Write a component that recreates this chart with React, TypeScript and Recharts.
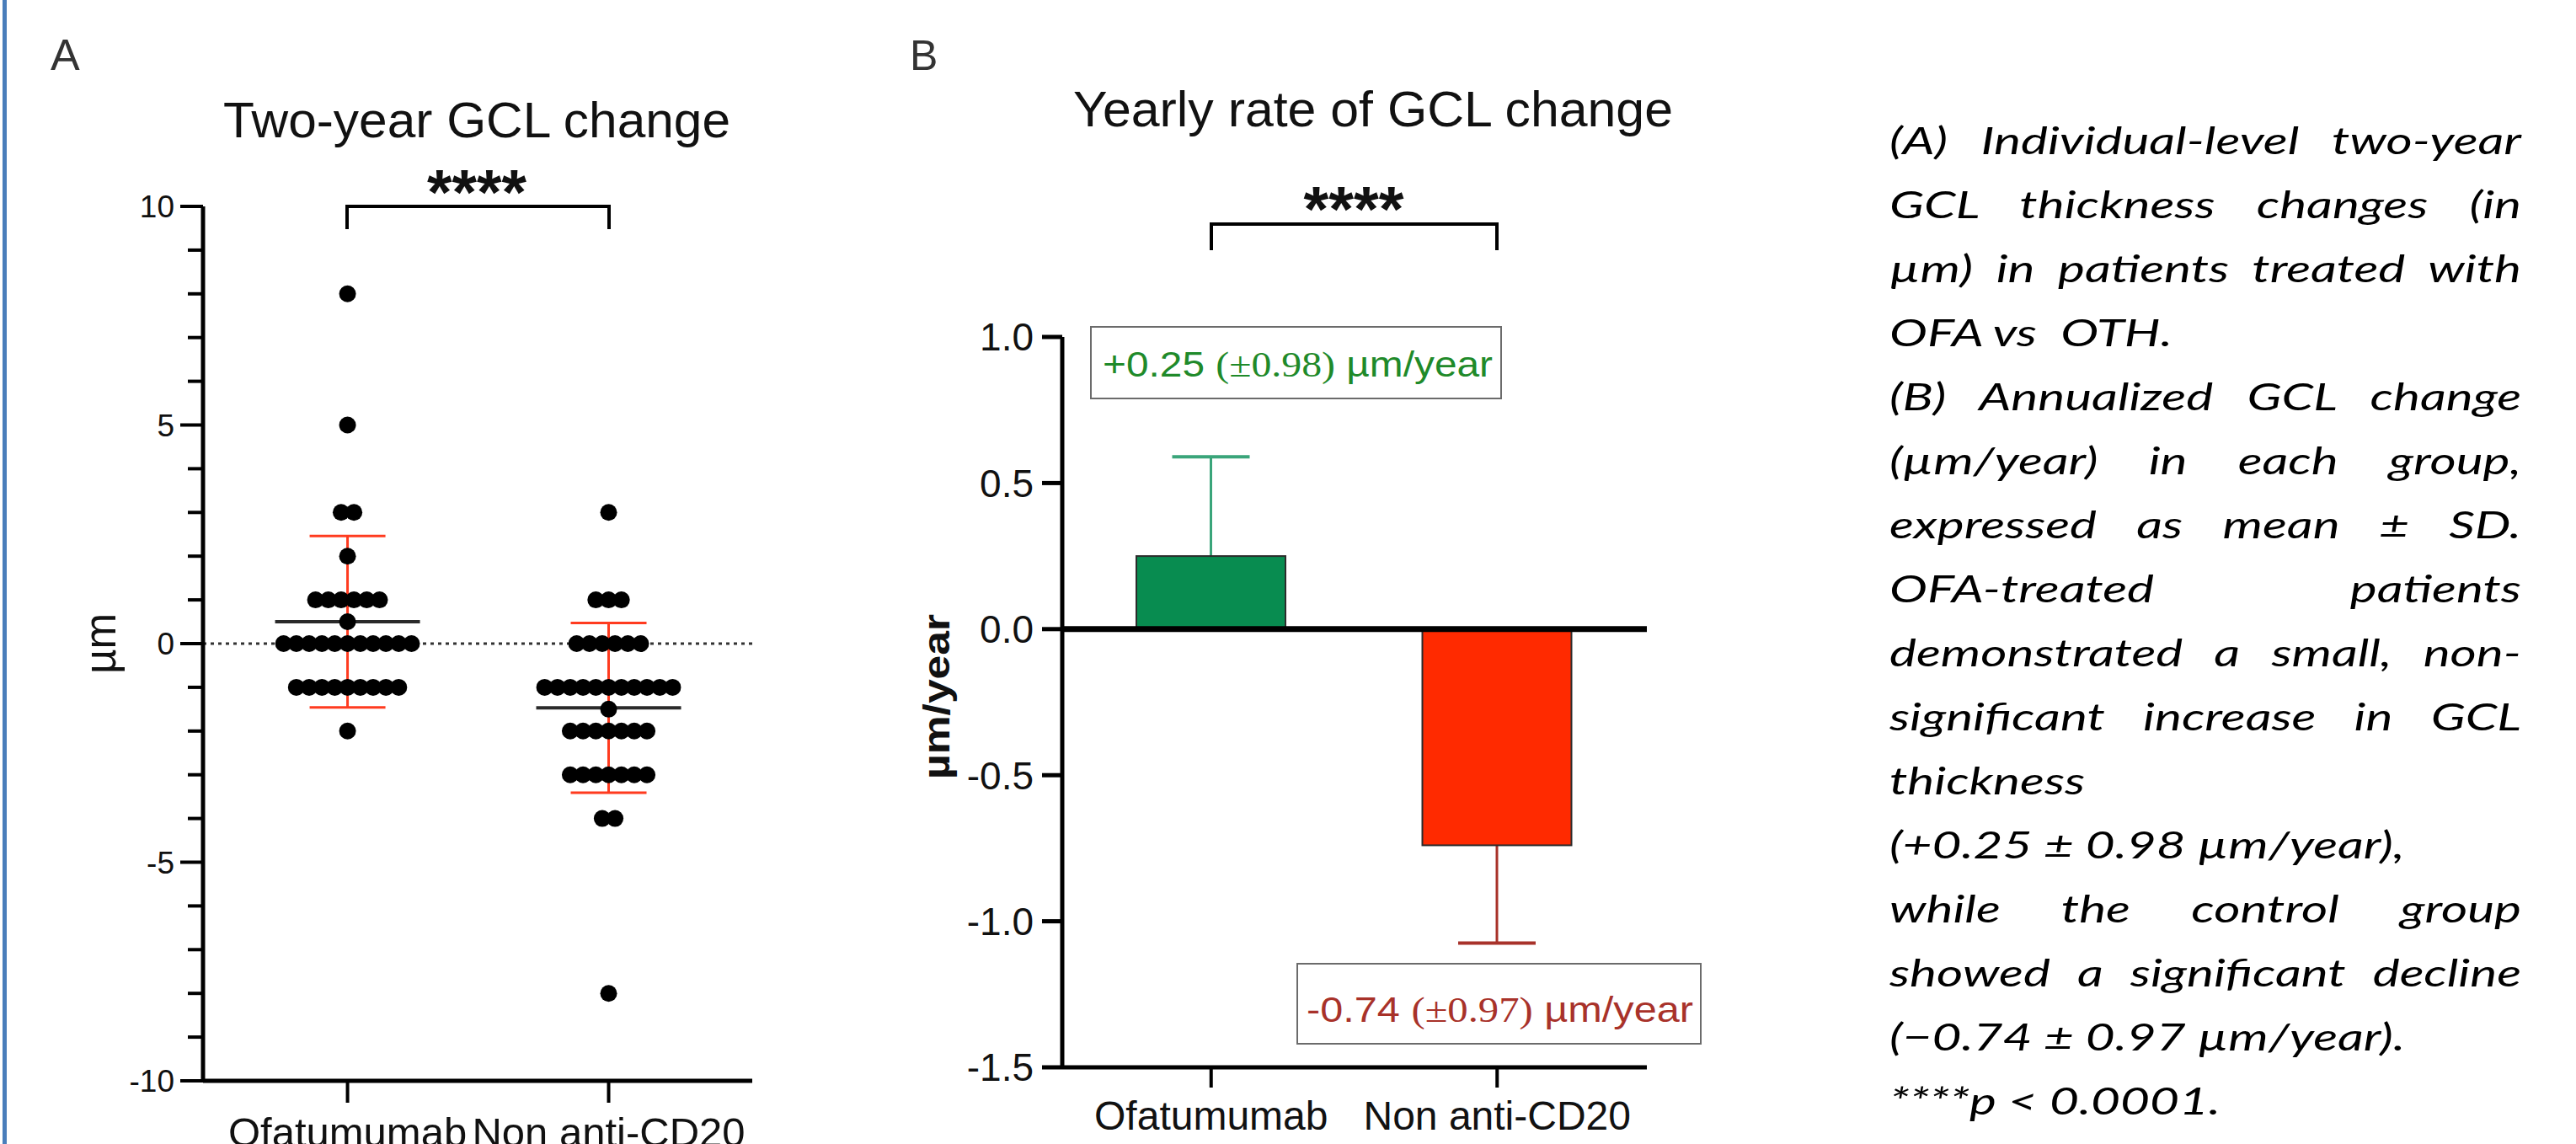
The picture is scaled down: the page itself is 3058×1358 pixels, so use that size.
import React from 'react';
import { ScatterChart, Scatter, BarChart, Bar, XAxis, YAxis, ReferenceLine, ErrorBar } from 'recharts';

const FONT = "'Liberation Sans', Arial, Helvetica, sans-serif";

const groups = ['Ofatumumab', 'Non anti-CD20'];

// panel A: individual two-year GCL change (µm)
const ofaChange = [
  8, 5, 3, 3, 2,
  1, 1, 1, 1, 1, 1,
  0.5,
  0, 0, 0, 0, 0, 0, 0, 0, 0, 0, 0,
  -1, -1, -1, -1, -1, -1, -1, -1, -1,
  -2,
];
const othChange = [
  3,
  1, 1, 1,
  0, 0, 0, 0, 0, 0,
  -1, -1, -1, -1, -1, -1, -1, -1, -1, -1, -1,
  -1.5,
  -2, -2, -2, -2, -2, -2, -2,
  -3, -3, -3, -3, -3, -3, -3,
  -4, -4,
  -8,
];
const groupMean = [0.5, -1.47];
const groupSd = [1.96, 1.94];
const yTicksA = [-10, -9, -8, -7, -6, -5, -4, -3, -2, -1, 0, 1, 2, 3, 4, 5, 6, 7, 8, 9, 10];

// panel B: yearly rate
const yearlyRate = [0.25, -0.74];
const yearlyErr = [0.34, 0.335];
const barFill = ['#088c50', '#ff2a00'];
const whiskerColor = ['#3aa57a', '#a8322a'];
const yTicksB = [-1.5, -1, -0.5, 0, 0.5, 1];

const captionLines: [string, boolean][] = [
  ['(A) Individual-level two-year', true],
  ['GCL thickness changes (in', true],
  ['µm) in patients treated with', true],
  ['OFA vs  OTH.', false],
  ['(B) Annualized GCL change', true],
  ['(µm/year) in each group,', true],
  ['expressed as mean ± SD.', true],
  ['OFA-treated patients', true],
  ['demonstrated a small, non-', true],
  ['significant increase in GCL', true],
  ['thickness', false],
  ['(+0.25 ± 0.98 µm/year),', false],
  ['while the control group', true],
  ['showed a significant decline', true],
  ['(−0.74 ± 0.97 µm/year).', false],
  ['****p < 0.0001.', false],
];

// spread equal values sideways like a column scatter
const DOT_STEP = 0.049;
function swarm(values: number[], pos: number) {
  const counts: Record<string, number> = {};
  const seen: Record<string, number> = {};
  values.forEach(v => { counts[v] = (counts[v] || 0) + 1; });
  return values.map(v => {
    seen[v] = seen[v] === undefined ? 0 : seen[v] + 1;
    return { x: pos + (seen[v] - (counts[v] - 1) / 2) * DOT_STEP, y: v };
  });
}

const dotsA = [...swarm(ofaChange, 1), ...swarm(othChange, 2)];
const summaryA = groups.map((g, i) => ({ x: i + 1, y: groupMean[i], sd: groupSd[i] }));
const rateData = groups.map((g, i) => ({ group: g, rate: yearlyRate[i], err: yearlyErr[i], i }));

const Dot = (props: any) => <circle cx={props.cx} cy={props.cy} r={10} fill="#000" />;
const MeanLine = (props: any) => (
  <line x1={props.cx - 86} x2={props.cx + 86} y1={props.cy} y2={props.cy} stroke="#2a2a2a" strokeWidth={4} />
);

const TickA = (props: any) => {
  const { x, y, payload } = props;
  const axisX = x + 27 + 7;
  const major = payload.value % 5 === 0;
  return (
    <g>
      <line x1={axisX - (major ? 27 : 18)} x2={axisX} y1={y} y2={y} stroke="#000" strokeWidth={4} />
      {major && (
        <text x={x} y={y} dy="0.36em" textAnchor="end" fontSize={37} fontFamily={FONT} fill="#111">
          {payload.value}
        </text>
      )}
    </g>
  );
};

const RateBar = (props: any) => {
  const { x, y, width, height, payload } = props;
  const top = Math.min(y, y + height);
  const h = Math.abs(height);
  const ppu = h / Math.abs(payload.rate);
  const cx = x + width / 2;
  const end = payload.rate >= 0 ? top - payload.err * ppu : top + h + payload.err * ppu;
  const start = payload.rate >= 0 ? top : top + h;
  const c = whiskerColor[payload.i];
  return (
    <g>
      <line x1={cx} x2={cx} y1={start} y2={end} stroke={c} strokeWidth={3} />
      <line x1={cx - 46} x2={cx + 46} y1={end} y2={end} stroke={c} strokeWidth={4} />
      <rect x={x} y={top} width={width} height={h} fill={barFill[payload.i]} stroke="#2b2b2b" strokeWidth={2} />
    </g>
  );
};

export default function App() {
  const txt = { fontFamily: FONT, fill: '#111' };
  return (
    <div style={{ position: 'absolute', left: 0, top: 0, width: 3058, height: 1358, background: '#fff', overflow: 'hidden' }}>
      <div style={{ position: 'absolute', left: 0, top: 0 }}>
        <ScatterChart width={1000} height={1358} margin={{ top: 245, right: 107, bottom: 0, left: 121 }}>
          <XAxis
            type="number"
            dataKey="x"
            domain={[0.4465, 2.55]}
            ticks={[1, 2]}
            interval={0}
            allowDataOverflow
            tickFormatter={(v: number) => groups[v - 1]}
            height={75}
            axisLine={{ stroke: '#000', strokeWidth: 5 }}
            tickLine={{ stroke: '#000', strokeWidth: 4 }}
            tickSize={26}
            tickMargin={17}
            tick={{ fill: '#111', fontSize: 49, fontFamily: FONT }}
          />
          <YAxis
            type="number"
            dataKey="y"
            domain={[-10, 10]}
            ticks={yTicksA}
            interval={0}
            width={120}
            tickLine={false}
            tickSize={27}
            tickMargin={7}
            axisLine={{ stroke: '#000', strokeWidth: 5 }}
            tick={(p: any) => <TickA {...p} />}
          />
          <ReferenceLine y={0} stroke="#333" strokeWidth={3} strokeDasharray="4 5" />
          <Scatter data={summaryA} shape={MeanLine} isAnimationActive={false}>
            <ErrorBar dataKey="sd" direction="y" width={45} stroke="#ff3b1f" strokeWidth={3} isAnimationActive={false} />
          </Scatter>
          <Scatter data={dotsA} shape={Dot} isAnimationActive={false} />
        </ScatterChart>
      </div>

      <div style={{ position: 'absolute', left: 1000, top: 0 }}>
        <BarChart width={1060} height={1358} data={rateData} barSize={177} margin={{ top: 400, right: 105, bottom: 0, left: 131 }}>
          <XAxis
            dataKey="group"
            height={91}
            padding={{ left: 7, right: 8 }}
            interval={0}
            axisLine={{ stroke: '#000', strokeWidth: 5 }}
            tickLine={{ stroke: '#000', strokeWidth: 4 }}
            tickSize={24}
            tickMargin={16}
            tick={{ fill: '#111', fontSize: 48, fontFamily: FONT }}
          />
          <YAxis
            type="number"
            domain={[-1.5, 1]}
            ticks={yTicksB}
            interval={0}
            allowDataOverflow
            width={130}
            tickSize={24}
            tickMargin={10}
            tickFormatter={(v: number) => v.toFixed(1)}
            axisLine={{ stroke: '#000', strokeWidth: 5 }}
            tickLine={{ stroke: '#000', strokeWidth: 5 }}
            tick={{ fill: '#111', fontSize: 46, fontFamily: FONT }}
          />
          <Bar dataKey="rate" shape={RateBar} isAnimationActive={false} />
          <ReferenceLine y={0} stroke="#000" strokeWidth={7} />
        </BarChart>
      </div>

      <svg width={3058} height={1358} style={{ position: 'absolute', left: 0, top: 0, pointerEvents: 'none' }}>
        <rect x={3} y={0} width={5} height={1358} fill="#4a7ebb" />
        <text x={60} y={83} fontSize={52} {...txt} fill="#333">A</text>
        <text x={1080} y={83} fontSize={50} {...txt} fill="#333">B</text>
        <text x={566} y={163} fontSize={60} textAnchor="middle" textLength={602} lengthAdjust="spacingAndGlyphs" {...txt}>Two-year GCL change</text>
        <text x={1630} y={150} fontSize={60} textAnchor="middle" textLength={712} lengthAdjust="spacingAndGlyphs" {...txt}>Yearly rate of GCL change</text>

        <text x={566} y={254} fontSize={76} fontWeight="bold" textAnchor="middle" textLength={118} lengthAdjust="spacingAndGlyphs" {...txt}>****</text>
        <path d="M412,272 L412,245 L723,245 L723,272" fill="none" stroke="#000" strokeWidth={4} />
        <text x={1607} y={274} fontSize={76} fontWeight="bold" textAnchor="middle" textLength={119} lengthAdjust="spacingAndGlyphs" {...txt}>****</text>
        <path d="M1438,297 L1438,266 L1777,266 L1777,297" fill="none" stroke="#000" strokeWidth={4} />

        <text transform="translate(137,764) rotate(-90)" fontSize={54} textAnchor="middle" textLength={72} lengthAdjust="spacingAndGlyphs" {...txt}>µm</text>
        <text transform="translate(1127,827) rotate(-90)" fontSize={44} fontWeight="bold" textAnchor="middle" textLength={196} lengthAdjust="spacingAndGlyphs" {...txt}>µm/year</text>

        <rect x={1295} y={388} width={487} height={85} fill="#fff" stroke="#6b6b6b" strokeWidth={2} />
        <text x={1309} y={447} fontSize={43} textLength={463} lengthAdjust="spacingAndGlyphs" fill="#1f8a2a" fontFamily={FONT}>
          <tspan>+0.25 </tspan>
          <tspan fontFamily="'Liberation Serif', 'Times New Roman', serif">(±0.98)</tspan>
          <tspan> µm/year</tspan>
        </text>
        <rect x={1540} y={1144} width={479} height={95} fill="#fff" stroke="#6b6b6b" strokeWidth={2} />
        <text x={1551} y={1213} fontSize={43} textLength={459} lengthAdjust="spacingAndGlyphs" fill="#a8322a" fontFamily={FONT}>
          <tspan>-0.74 </tspan>
          <tspan fontFamily="'Liberation Serif', 'Times New Roman', serif">(±0.97)</tspan>
          <tspan> µm/year</tspan>
        </text>
      </svg>

      <div style={{ position: 'absolute', left: 2243, top: 128, fontFamily: 'Lato, sans-serif', fontStyle: 'italic', fontSize: 44, color: '#000' }}>
        {captionLines.map(([line, justify], i) => (
          <div
            key={i}
            style={{
              width: 750 / 1.37,
              height: 76,
              lineHeight: '76px',
              whiteSpace: justify ? 'normal' : 'pre',
              textAlign: justify ? 'justify' : 'left',
              textAlignLast: justify ? 'justify' : 'left',
              transform: 'scaleX(1.37)',
              transformOrigin: 'left top',
            }}
          >
            {line}
          </div>
        ))}
      </div>
    </div>
  );
}
